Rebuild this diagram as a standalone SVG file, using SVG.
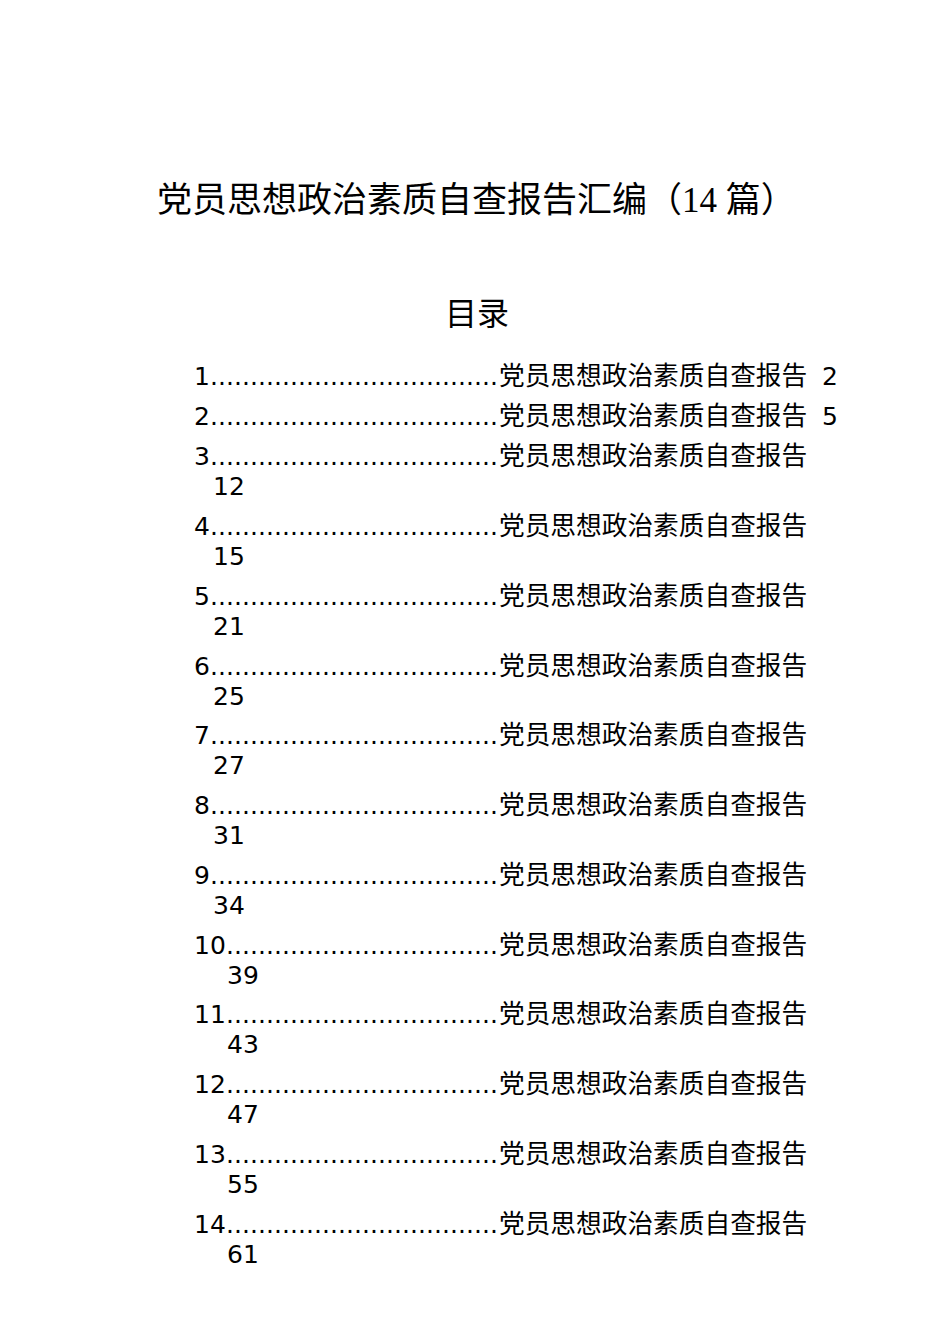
<svg xmlns="http://www.w3.org/2000/svg" width="950" height="1344" viewBox="0 0 950 1344">
<style>
.title{font-family:"Liberation Serif","Noto Sans CJK SC",serif;font-size:35px;fill:#000}
.head{font-family:"Noto Sans CJK SC",sans-serif;font-size:32px;fill:#000}
.toc{font-family:"DejaVu Sans","Noto Sans CJK SC",sans-serif;font-size:25px;fill:#000}
.cjk{font-size:25.7px}
</style>
<rect width="950" height="1344" fill="#fff"/>
<text class="title" x="157" y="212">党员思想政治素质自查报告汇编（<tspan font-family="Liberation Serif">14 </tspan>篇）</text>
<text class="head" x="477" y="325" text-anchor="middle">目录</text>
<g id="toc" class="toc">
<g id="r1"><text x="194" y="385">1</text><text x="210" y="385" textLength="288" lengthAdjust="spacing">....................................</text><text class="cjk" x="499" y="385">党员思想政治素质自查报告</text><text x="822" y="385">2</text></g>
<g id="r2"><text x="194" y="425">2</text><text x="210" y="425" textLength="288" lengthAdjust="spacing">....................................</text><text class="cjk" x="499" y="425">党员思想政治素质自查报告</text><text x="822" y="425">5</text></g>
<g id="r3"><text x="194" y="465">3</text><text x="210" y="465" textLength="288" lengthAdjust="spacing">....................................</text><text class="cjk" x="499" y="465">党员思想政治素质自查报告</text><text x="213" y="495">12</text></g>
<g id="r4"><text x="194" y="535">4</text><text x="210" y="535" textLength="288" lengthAdjust="spacing">....................................</text><text class="cjk" x="499" y="535">党员思想政治素质自查报告</text><text x="213" y="565">15</text></g>
<g id="r5"><text x="194" y="605">5</text><text x="210" y="605" textLength="288" lengthAdjust="spacing">....................................</text><text class="cjk" x="499" y="605">党员思想政治素质自查报告</text><text x="213" y="635">21</text></g>
<g id="r6"><text x="194" y="675">6</text><text x="210" y="675" textLength="288" lengthAdjust="spacing">....................................</text><text class="cjk" x="499" y="675">党员思想政治素质自查报告</text><text x="213" y="705">25</text></g>
<g id="r7"><text x="194" y="744">7</text><text x="210" y="744" textLength="288" lengthAdjust="spacing">....................................</text><text class="cjk" x="499" y="744">党员思想政治素质自查报告</text><text x="213" y="774">27</text></g>
<g id="r8"><text x="194" y="814">8</text><text x="210" y="814" textLength="288" lengthAdjust="spacing">....................................</text><text class="cjk" x="499" y="814">党员思想政治素质自查报告</text><text x="213" y="844">31</text></g>
<g id="r9"><text x="194" y="884">9</text><text x="210" y="884" textLength="288" lengthAdjust="spacing">....................................</text><text class="cjk" x="499" y="884">党员思想政治素质自查报告</text><text x="213" y="914">34</text></g>
<g id="r10"><text x="194" y="954">10</text><text x="226" y="954" textLength="272" lengthAdjust="spacing">..................................</text><text class="cjk" x="499" y="954">党员思想政治素质自查报告</text><text x="227" y="984">39</text></g>
<g id="r11"><text x="194" y="1023">11</text><text x="226" y="1023" textLength="272" lengthAdjust="spacing">..................................</text><text class="cjk" x="499" y="1023">党员思想政治素质自查报告</text><text x="227" y="1053">43</text></g>
<g id="r12"><text x="194" y="1093">12</text><text x="226" y="1093" textLength="272" lengthAdjust="spacing">..................................</text><text class="cjk" x="499" y="1093">党员思想政治素质自查报告</text><text x="227" y="1123">47</text></g>
<g id="r13"><text x="194" y="1163">13</text><text x="226" y="1163" textLength="272" lengthAdjust="spacing">..................................</text><text class="cjk" x="499" y="1163">党员思想政治素质自查报告</text><text x="227" y="1193">55</text></g>
<g id="r14"><text x="194" y="1233">14</text><text x="226" y="1233" textLength="272" lengthAdjust="spacing">..................................</text><text class="cjk" x="499" y="1233">党员思想政治素质自查报告</text><text x="227" y="1263">61</text></g>
</g>
</svg>
